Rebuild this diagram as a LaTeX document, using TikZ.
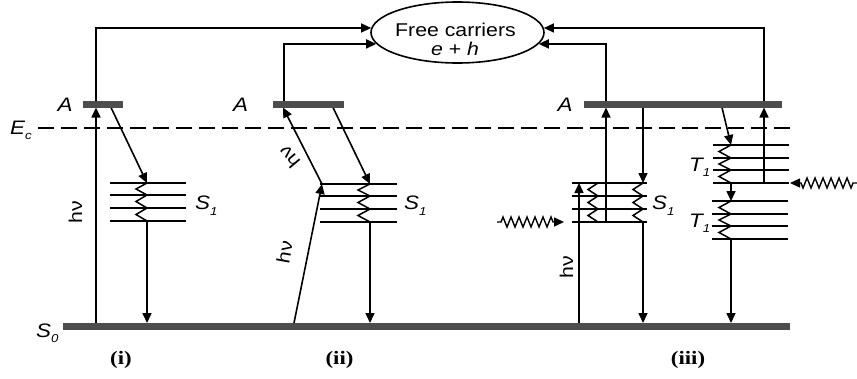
\documentclass[tikz,border=0pt]{standalone}
\usepackage{fontspec}
\usetikzlibrary{arrows.meta,shapes.geometric,decorations.pathmorphing}
\newfontfamily\labfont[FakeStretch=1.15]{Liberation Sans}
\newfontfamily\romfont[FakeStretch=1.2]{Liberation Serif}
\newcommand{\mysub}[1]{\raisebox{-0.3em}{\fontsize{11.5}{11.5}\selectfont #1}}
\definecolor{barc}{HTML}{4D4D4D}
\begin{document}
\begin{tikzpicture}[x=1pt,y=-1pt,
  ln/.style={line width=1.6pt},
  arr/.style={line width=1.6pt,-{Triangle[length=10pt,width=9pt]}},
  bar/.style={line width=7pt,draw=barc},
  lvl/.style={line width=1.5pt},
  zz/.style={line width=1.5pt,line join=miter},
  lab/.style={font=\labfont\itshape\fontsize{19.5}{21}\selectfont, inner sep=0pt},
  hnu/.style={font=\labfont\fontsize{18.5}{20}\selectfont, inner sep=0pt},
  panel/.style={font=\romfont\bfseries\fontsize{19}{20}\selectfont, inner sep=0pt},
  wave/.style={line width=1.4pt, -{Triangle[length=10pt,width=9pt]}, decorate,
    decoration={zigzag,segment length=8pt,amplitude=5pt,pre length=4pt,post length=9pt}},
]
\useasboundingbox (0,0) rectangle (857,378);

% free carriers
\node[draw, ellipse, line width=1.6pt, minimum width=173pt, minimum height=61pt, inner sep=0pt] (fc) at (457.5,32.5) {};
\node[hnu, anchor=base] (fct1) at (455.5,36) {Free carriers};
\node[hnu, anchor=base] (fct2) at (455,55) {\textit{e} + \textit{h}};

% conduction band edge
\draw[line width=1.4pt, dash pattern=on 16pt off 7pt] (38,128) -- (790,128);
\node[lab, anchor=base west] (Ec) at (10,134) {E\mysub{c}};

% ---------- (i)
\foreach \yy in {183,195,208,221} \draw[lvl] (110,\yy) -- (186,\yy);
\draw[arr] (96,323) -- (96,107.5);
\draw[arr] (96,107.5) |- (fc.177);
\draw[arr] (111,107.5) -- (147,183);
\draw[zz] (147,183) -- (136,189) -- (147,195) -- (136,201.5) -- (147,208) -- (136,214.5) -- (147,221);
\draw[arr] (147,221) -- (147,323);
\draw[bar] (83,104) -- (123,104);
\node[lab, anchor=base] (Ai) at (65,111.5) {A};
\node[hnu, rotate=90] (hni) at (75.5,212) {hν};
\node[lab, anchor=base west] (S1i) at (195,209.5) {S\mysub{1}};
\node[panel] (pi) at (121,359.5) {(i)};

% ---------- (ii)
\foreach \yy in {184,196,209,222} \draw[lvl] (320,\yy) -- (397,\yy);
\draw[arr] (284,104) |- (fc.188);
\draw[arr] (294,323) -- (322,184);
\draw[arr] (322,184) -- (283,107.5);
\draw[arr] (333,107.5) -- (370,184);
\draw[zz] (370,184) -- (358,190) -- (370,196) -- (358,202.5) -- (370,209) -- (358,215.5) -- (370,222);
\draw[arr] (370,222) -- (370,323);
\draw[bar] (273,104) -- (344,104);
\node[lab, anchor=base] (Aii) at (240.5,111.5) {A};
\node[hnu, rotate=130] (hnii1) at (289,157) {hν};
\node[hnu, rotate=80] (hnii2) at (284.5,252) {hν};
\node[lab, anchor=base west] (S1ii) at (404,209.5) {S\mysub{1}};
\node[panel] (pii) at (339.5,359.5) {(ii)};

% ---------- (iii)
\foreach \yy in {183,196,209,222} \draw[lvl] (572,\yy) -- (647,\yy);
\foreach \yy in {145,158,170,183} \draw[lvl] (713,\yy) -- (789,\yy);
\foreach \yy in {201,214,226,239} \draw[lvl] (712,\yy) -- (788,\yy);
\draw[arr] (579,323) -- (579,183);
\draw[zz] (598,183) -- (588,189.5) -- (598,196) -- (588,202.5) -- (598,209) -- (588,215.5) -- (598,222);
\draw[arr] (606,222) -- (606,107.5);
\draw[arr] (606,104) |- (fc.352);
\draw[arr] (643,107.5) -- (643,183);
\draw[zz] (643,183) -- (633,189.5) -- (643,196) -- (633,202.5) -- (643,209) -- (633,215.5) -- (643,222);
\draw[arr] (643,222) -- (643,323);
\draw[arr] (722,107.5) -- (731,145);
\draw[zz] (731,145) -- (719,151.5) -- (731,158) -- (719,164) -- (731,170) -- (719,176.5) -- (731,183);
\draw[arr] (764,183) -- (764,107.5);
\draw[arr] (764,104) |- (fc.3);
\draw[arr] (731,183) -- (731,201);
\draw[zz] (731,201) -- (719,207.5) -- (731,214) -- (719,220) -- (731,226) -- (719,232.5) -- (731,239);
\draw[arr] (731,239) -- (731,323);
\draw[wave] (497,222) -- (564,222);
\draw[wave] (857,183) -- (790,183);
\draw[bar] (584,104) -- (782,104);
\node[lab, anchor=base] (Aiii) at (565,111.5) {A};
\node[hnu, rotate=90] (hniii) at (566.5,267) {hν};
\node[lab, anchor=base west] (S1iii) at (652,209.5) {S\mysub{1}};
\node[lab, anchor=base west] (T1a) at (689,171) {T\mysub{1}};
\node[lab, anchor=base west] (T1b) at (689,227) {T\mysub{1}};
\node[panel] (piii) at (688,359.5) {(iii)};

% ground state
\draw[bar] (63,326.5) -- (790,326.5);
\node[lab, anchor=base west] (S0) at (36,337) {S\mysub{0}};
\end{tikzpicture}
\end{document}
